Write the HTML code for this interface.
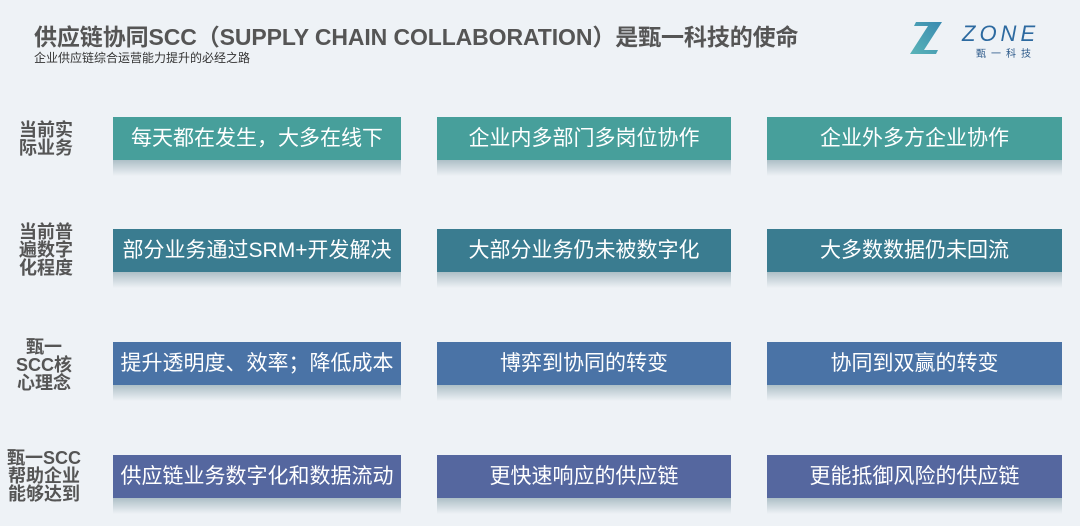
<!DOCTYPE html>
<html><head><meta charset="utf-8"><style>
body{margin:0;width:1080px;height:526px;background:#eef2f6;font-family:"Liberation Sans","Noto Sans CJK SC",sans-serif;position:relative;overflow:hidden}
.t{position:absolute;left:34px;top:18px;font-size:23px;font-weight:bold;color:#555;letter-spacing:-0.1px;white-space:nowrap}
.s{position:absolute;left:34px;top:49px;font-size:12px;color:#333}
.lab{position:absolute;font-size:18px;font-weight:bold;color:#555;line-height:18px;text-align:center;width:84px}
.b{position:absolute;height:43px;color:#fff;font-size:21px;line-height:43px;text-align:center;white-space:nowrap}
.b::after{content:"";position:absolute;left:0;right:0;top:43px;height:16px;background:linear-gradient(rgba(120,150,160,.55),rgba(238,242,246,0))}
.c1{left:113px;width:288px}.c2{left:437px;width:294px}.c3{left:767px;width:295px}
.r1{top:117px;background:#479f9b}.r2{top:229px;background:#3a7c90}.r3{top:342px;background:#4a73a6}.r4{top:455px;background:#55679f}
</style></head><body>
<div class="t">供应链协同SCC（SUPPLY CHAIN COLLABORATION）是甄一科技的使命</div>
<div class="s">企业供应链综合运营能力提升的必经之路</div>
<svg style="position:absolute;left:908px;top:20px" width="40" height="40" viewBox="0 0 40 40">
<defs><linearGradient id="g" x1="0" y1="1" x2="1" y2="0"><stop offset="0" stop-color="#5ab4b8"/><stop offset="1" stop-color="#3a8ab0"/></linearGradient></defs>
<path d="M8 2H34L16 30H30L28 34H2L20 6H6Z" fill="url(#g)"/></svg>
<div style="position:absolute;left:962px;top:21px;font-size:22px;font-style:italic;letter-spacing:4px;color:#2d6aa0">ZONE</div>
<div style="position:absolute;left:976px;top:45px;font-size:10px;letter-spacing:5px;color:#2d5a8a">甄一科技</div>

<div class="lab" style="left:4px;top:121px">当前实<br>际业务</div>
<div class="lab" style="left:4px;top:223px">当前普<br>遍数字<br>化程度</div>
<div class="lab" style="left:2px;top:338px">甄一<br>SCC核<br>心理念</div>
<div class="lab" style="left:2px;top:449px">甄一SCC<br>帮助企业<br>能够达到</div>

<div class="b c1 r1">每天都在发生，大多在线下</div>
<div class="b c2 r1">企业内多部门多岗位协作</div>
<div class="b c3 r1">企业外多方企业协作</div>
<div class="b c1 r2">部分业务通过SRM+开发解决</div>
<div class="b c2 r2">大部分业务仍未被数字化</div>
<div class="b c3 r2">大多数数据仍未回流</div>
<div class="b c1 r3">提升透明度、效率；降低成本</div>
<div class="b c2 r3">博弈到协同的转变</div>
<div class="b c3 r3">协同到双赢的转变</div>
<div class="b c1 r4">供应链业务数字化和数据流动</div>
<div class="b c2 r4">更快速响应的供应链</div>
<div class="b c3 r4">更能抵御风险的供应链</div>
</body></html>
